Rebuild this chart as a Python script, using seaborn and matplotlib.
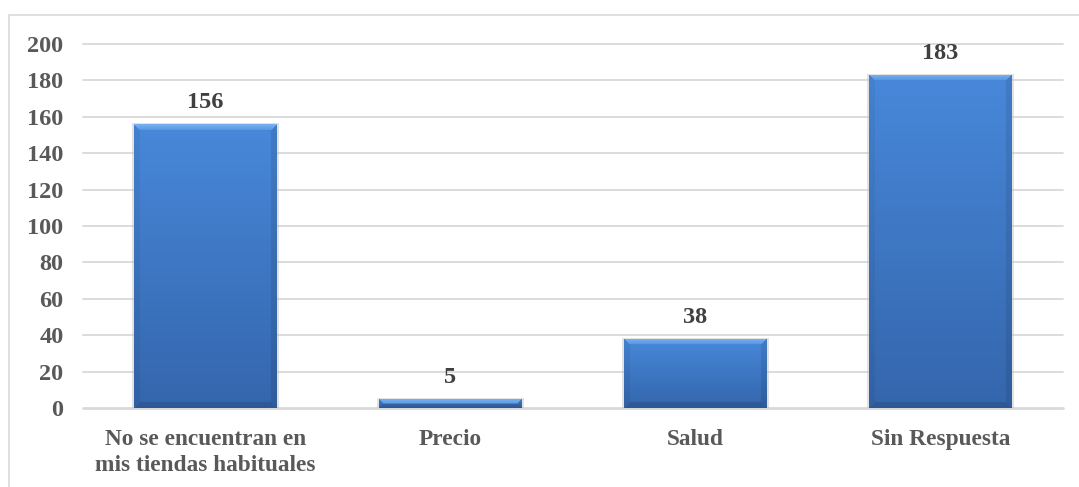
import numpy as np
import pandas as pd
import seaborn as sns
import matplotlib.pyplot as plt
from matplotlib.patches import Rectangle

# Datos del gráfico
categorias = ["No se encuentran en\nmis tiendas habituales", "Precio", "Salud", "Sin Respuesta"]
valores = [156, 5, 38, 183]
ticks_y = list(range(0, 201, 20))

sns.set_theme(style="white")
plt.rcParams['font.family'] = ['Liberation Serif', 'DejaVu Serif']
plt.rcParams['font.weight'] = 'bold'

W, H = 1079, 487
fig = plt.figure(figsize=(W / 100, H / 100), dpi=100)
fig.patch.set_facecolor("white")

# Marco exterior del gráfico
fig.add_artist(Rectangle((9 / W, -0.02), 1.1, 1 - 15 / H + 0.02, transform=fig.transFigure,
                         fill=False, edgecolor="#D9D9D9", linewidth=1.2))

ax = fig.add_axes([83 / W, 1 - 408 / H, 980 / W, 364 / H])
df = pd.DataFrame({"motivo": categorias, "n": valores})
sns.barplot(data=df, x="motivo", y="n", ax=ax, color="#3F7FCF", width=0.58,
            saturation=1, zorder=3, errorbar=None)

ax.set_xlim(-0.5, 3.5)
ax.set_ylim(0, 200)
ax.set_yticks(ticks_y)
ax.set_xlabel("")
ax.set_ylabel("")
for s in ax.spines.values():
    s.set_visible(False)
ax.set_facecolor("none")
ax.grid(False)
for t in ticks_y:
    ax.axhline(t, color="#D9D9D9", linewidth=1.3 if t else 2.0, zorder=1, clip_on=False)

ax.tick_params(axis="y", length=0, pad=14, labelsize=17.5, labelcolor="#595959")
ax.tick_params(axis="x", length=0, pad=15, labelsize=16.8, labelcolor="#595959")
for lbl in ax.get_xticklabels():
    lbl.set_fontweight("bold")
    lbl.set_linespacing(1.3)
for lbl in ax.get_yticklabels():
    lbl.set_fontweight("bold")

# Relleno biselado de cada barra
fig.canvas.draw()
top_c = np.array([72, 136, 218]) / 255
bot_c = np.array([52, 102, 172]) / 255
bevel_top_a = np.array([120, 178, 240]) / 255
bevel_top_b = np.array([84, 148, 225]) / 255
side_dark = 0.95
right_dark = 0.91
bot_dark = 0.87
b = 6
for patch in list(ax.patches):
    bb = patch.get_window_extent()
    wpx = max(int(round(bb.width)), 2)
    hpx = max(int(round(bb.height)), 2)
    ii, jj = np.mgrid[0:hpx, 0:wpx]
    frac = ii / max(hpx - 1, 1)
    img = top_c[None, None, :] * (1 - frac[..., None]) + bot_c[None, None, :] * frac[..., None]
    d = np.stack([ii, jj, wpx - 1 - jj, hpx - 1 - ii])
    side = d.argmin(axis=0)
    dmin = d.min(axis=0)
    mask = dmin < b
    t = (dmin / b)[..., None]
    m = mask & (side == 0)
    img[m] = (bevel_top_a * (1 - t) + bevel_top_b * t)[m]
    img[mask & (side == 1)] *= side_dark
    img[mask & (side == 2)] *= right_dark
    img[mask & (side == 3)] *= bot_dark
    x0 = patch.get_x()
    w = patch.get_width()
    h = patch.get_height()
    # sombra suave detrás de la barra
    ax.add_patch(Rectangle((x0 - 0.008, 0), w + 0.016, h + 0.6, facecolor="#BFBFBF",
                           alpha=0.45, edgecolor="none", zorder=2))
    im = ax.imshow(img, extent=[x0, x0 + w, 0, h], aspect="auto", zorder=4,
                   interpolation="bilinear")
    im.set_clip_path(patch)
    patch.set_edgecolor("none")

ax.set_xlim(-0.5, 3.5)
ax.set_ylim(0, 200)

# Etiquetas de valor
for i, v in enumerate(valores):
    ax.annotate(f"{v}", xy=(i, v), xytext=(0, 8), textcoords="offset points",
                ha="center", va="bottom", fontsize=17.5, fontweight="bold",
                color="#404040", zorder=5)

fig.savefig("out.png", dpi=100, facecolor="white")
